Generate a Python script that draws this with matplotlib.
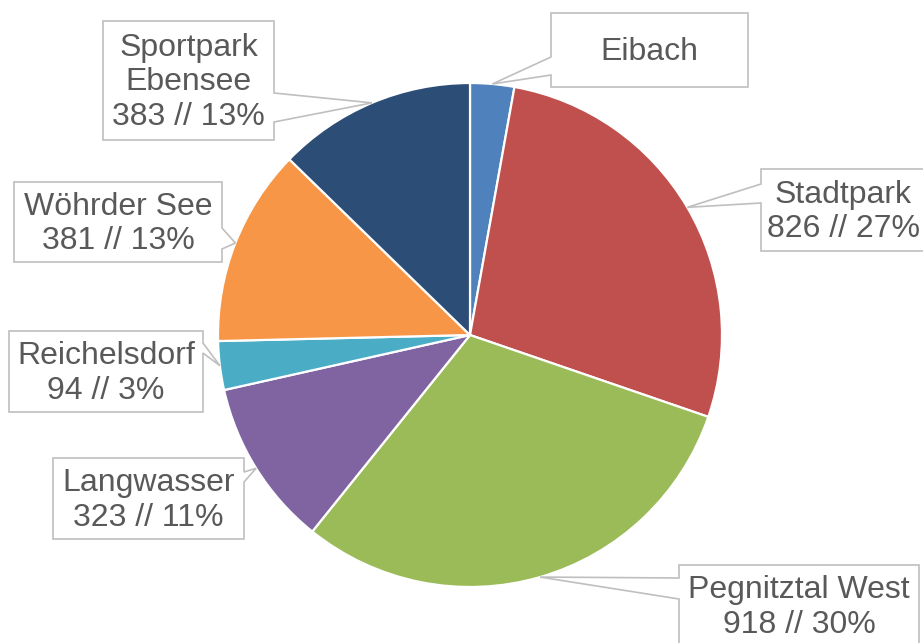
import matplotlib.pyplot as plt
from matplotlib.patches import Polygon
import numpy as np

# Daten
standorte = ['Eibach', 'Stadtpark', 'Pegnitztal West', 'Langwasser',
             'Reichelsdorf', 'Wöhrder See', 'Sportpark\nEbensee']
anzahl = [85, 826, 918, 323, 94, 381, 383]
farben = ['#4F81BD', '#C0504D', '#9BBB59', '#8064A2',
          '#4BACC6', '#F79646', '#2C4D75']

# Beschriftungen (Eibach ohne Wert, wie im Original)
gesamt = sum(anzahl)
labels = []
for name, wert in zip(standorte, anzahl):
    if name == 'Eibach':
        labels.append(name)
    else:
        labels.append(f"{name}\n{wert} // {round(wert / gesamt * 100)}%")

# Layout der Beschriftungskästen in Pixeln: links, oben, rechts, unten, Seite des Zeigers, Zeiger-Basis
boxen = [
    (551, 13, 748, 87, 'left', (57, 75)),
    (761, 169, 926, 251, 'left', (184, 203)),
    (679, 565, 919, 646, 'left', (578, 599)),
    (53, 458, 244, 539, 'right', (472, 482)),
    (9, 331, 203, 412, 'right', (343, 353)),
    (14, 182, 222, 262, 'right', (228, 249)),
    (103, 21, 274, 140, 'right', (93, 122)),
]

W, H = 923, 643
fig = plt.figure(figsize=(W / 100, H / 100), dpi=100)
ax = fig.add_axes([0, 0, 1, 1])

mitte = (470, 335)
radius = 252
wedges, _ = ax.pie(anzahl, colors=farben, startangle=-90, counterclock=True,
                   center=mitte, radius=radius,
                   wedgeprops=dict(edgecolor='white', linewidth=1.6))

ax.set_xlim(0, W)
ax.set_ylim(H, 0)
ax.set_aspect('equal')
ax.axis('off')

for w, text, (l, t, r, b, seite, (y1, y2)) in zip(wedges, labels, boxen):
    theta = np.deg2rad((w.theta1 + w.theta2) / 2)
    spitze = (mitte[0] + radius * np.cos(theta), mitte[1] + radius * np.sin(theta))
    if seite == 'right':
        pts = [(l, t), (r, t), (r, y1), spitze, (r, y2), (r, b), (l, b)]
    else:
        pts = [(l, t), (r, t), (r, b), (l, b), (l, y2), spitze, (l, y1)]
    ax.add_patch(Polygon(pts, closed=True, facecolor='white', edgecolor='#BFBFBF',
                         linewidth=1.2, zorder=3))
    ax.text((l + r) / 2, (t + b) / 2 + 2, text, ha='center', va='center',
            fontsize=23, color='#595959', family='Liberation Sans',
            linespacing=1.2, zorder=4)

plt.savefig('out.png', dpi=100)
